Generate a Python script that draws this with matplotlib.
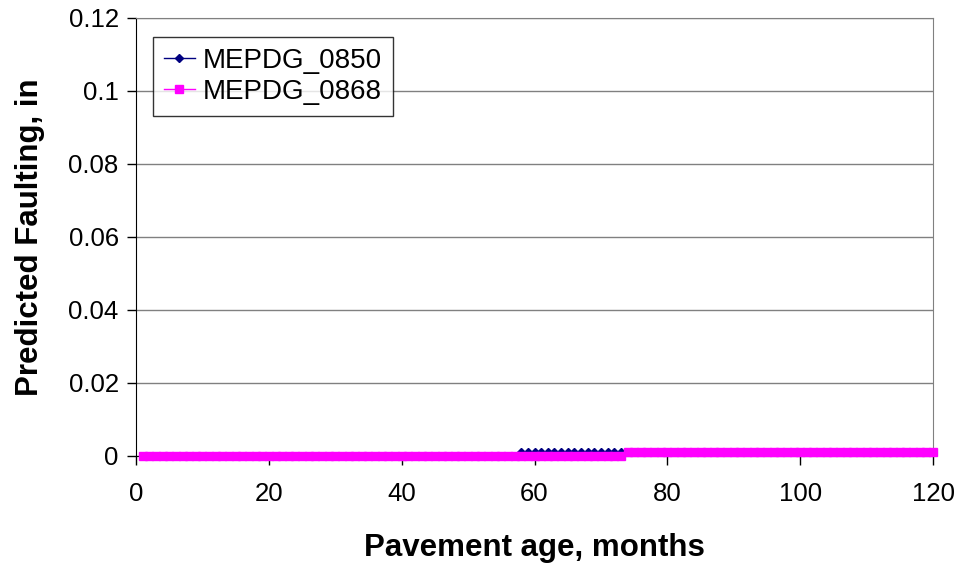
import numpy as np
import matplotlib
matplotlib.use("Agg")
import matplotlib.pyplot as plt

plt.rcParams['font.family'] = ['Liberation Sans', 'DejaVu Sans']

# Monthly predicted faulting (in) for the two MEPDG runs
months = list(range(1, 121))
faulting_0850 = [0.0] * 57 + [0.001] * 63
faulting_0868 = [0.0] * 73 + [0.001] * 47

series_names = ["MEPDG_0850", "MEPDG_0868"]
y_ticks = [0, 0.02, 0.04, 0.06, 0.08, 0.1, 0.12]
y_tick_labels = ["0", "0.02", "0.04", "0.06", "0.08", "0.1", "0.12"]
x_ticks = [0, 20, 40, 60, 80, 100, 120]

fig = plt.figure(figsize=(9.6, 5.69), dpi=100)
ax = fig.add_axes([0.1417, 0.1986, 0.8302, 0.7698])

ax.plot(months, faulting_0850, color="#000080", marker="D", markersize=4.5,
        linewidth=1, label=series_names[0], zorder=3, clip_on=False)
ax.plot(months, faulting_0868, color="#FF00FF", marker="s", markersize=5.8,
        linewidth=1, label=series_names[1], zorder=4, clip_on=False)

ax.set_xlim(0, 120)
ax.set_ylim(0, 0.12)
ax.set_xticks(x_ticks)
ax.set_yticks(y_ticks)
ax.set_yticklabels(y_tick_labels)
ax.tick_params(axis="both", labelsize=18.5, direction="out", length=6.5,
               width=1, colors="black")
ax.tick_params(axis="x", pad=12)
ax.tick_params(axis="y", pad=6)

ax.yaxis.grid(True, color="#808080", linewidth=1)
ax.set_axisbelow(True)
ax.spines["left"].set_color("black")
ax.spines["bottom"].set_color("black")
ax.spines["right"].set_color("#808080")
ax.spines["top"].set_color("#808080")

ax.set_xlabel("Pavement age, months", fontsize=22.5, fontweight="bold", labelpad=20)
ax.set_ylabel("Predicted Faulting, in", fontsize=22.5, fontweight="bold", labelpad=17)

leg = ax.legend(loc="upper left", bbox_to_anchor=(0.0213, 0.957), fontsize=20,
                frameon=True, fancybox=False, edgecolor="black",
                handlelength=1.1, handletextpad=0.3, borderpad=0.4,
                labelspacing=0.17, borderaxespad=0)
leg.get_frame().set_linewidth(1)

fig.savefig("out.png", dpi=100)
